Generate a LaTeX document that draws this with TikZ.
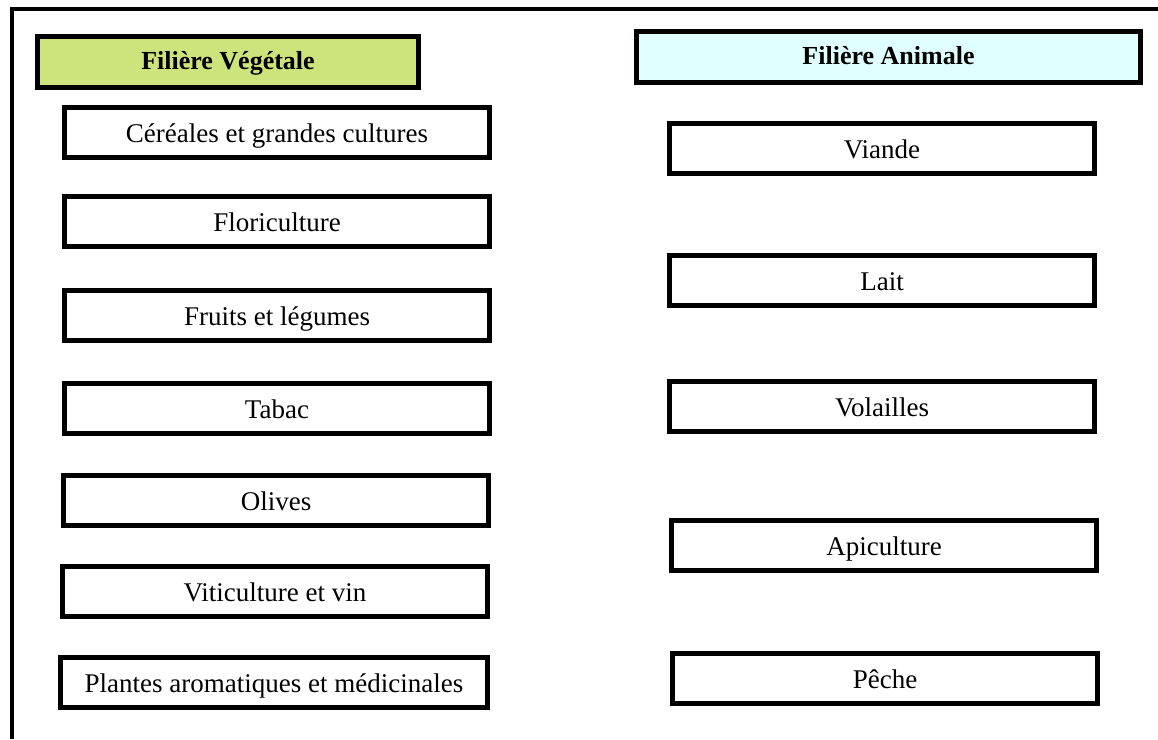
\documentclass[tikz,border=0pt]{standalone}
\usepackage{fontspec}
\setmainfont{Liberation Serif}
\definecolor{vegfill}{RGB}{205,228,125}
\definecolor{animfill}{RGB}{224,255,255}
\begin{document}
\begin{tikzpicture}[x=1pt,y=-1pt,
  itembox/.style={draw=black,line width=5pt,fill=white,inner sep=0pt,
    minimum width=425pt,minimum height=50pt,
    text height=23pt,text depth=2pt,
    font=\fontsize{27}{32}\selectfont},
  headbox/.style={draw=black,line width=5pt,inner sep=0pt,
    minimum height=51pt,text height=20pt,text depth=5pt,
    font=\bfseries\fontsize{26}{31}\selectfont}]
\useasboundingbox (0,0) rectangle (1158,739);
% outer frame (only top and left sides fall inside the page)
\coordinate (fbl) at (12,739);
\coordinate (ftl) at (12,9);
\coordinate (ftr) at (1158,9);
\draw[line width=4pt] (fbl) -- (ftl) -- (ftr);
% column headers
\node[headbox,fill=vegfill,minimum width=381pt] (veg) at (228,62) {Filière Végétale};
\node[headbox,fill=animfill,minimum width=504pt] (anim) at (888.5,57) {Filière Animale};
% plant sector
\node[itembox] (cer)  at (277,132) {Céréales et grandes cultures};
\node[itembox] (flo)  at (277,221) {Floriculture};
\node[itembox] (fru)  at (277,315) {Fruits et légumes};
\node[itembox] (tab)  at (277,408) {Tabac};
\node[itembox] (oli)  at (276,500) {Olives};
\node[itembox] (vit)  at (275,591) {Viticulture et vin};
\node[itembox,minimum width=427pt] (pam) at (274,682) {Plantes aromatiques et médicinales};
% animal sector
\node[itembox] (via)  at (882,148) {Viande};
\node[itembox] (lai)  at (882,280) {Lait};
\node[itembox] (vol)  at (882,406) {Volailles};
\node[itembox] (api)  at (884,545) {Apiculture};
\node[itembox] (pec)  at (885,678) {Pêche};
\end{tikzpicture}
\end{document}
